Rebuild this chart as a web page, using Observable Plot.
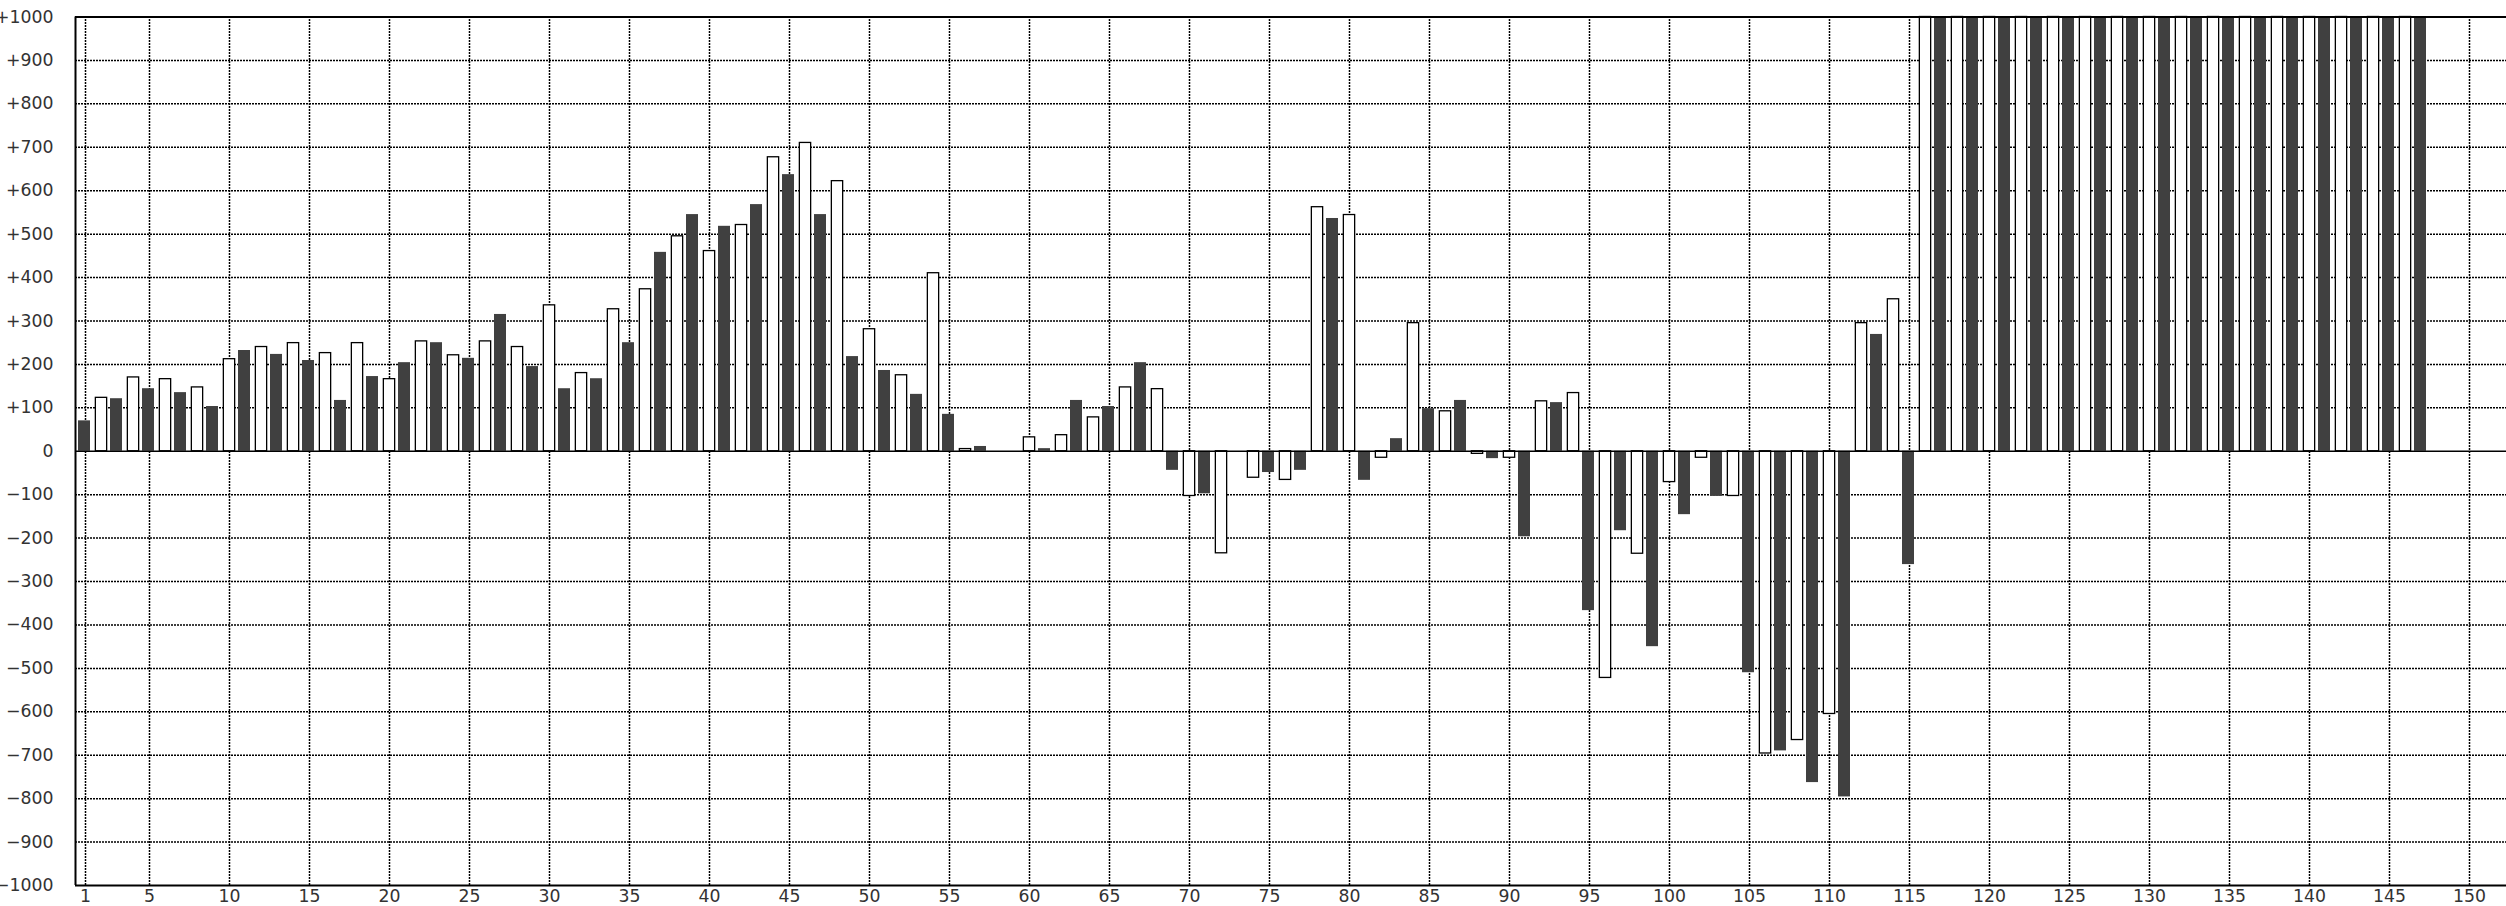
<!DOCTYPE html>
<html>
<head>
<meta charset="utf-8">
<script src="https://cdn.jsdelivr.net/npm/d3@7"></script>
<script src="https://cdn.jsdelivr.net/npm/@observablehq/plot@0.6"></script>
<style>
  html, body { margin: 0; padding: 0; background: #fff; }
  #chart svg { display: block; }
</style>
</head>
<body>
<div id="chart"></div>
<script>
// Dark (filled) series: positions 1, 3, 5, ..., 147
const darkValues = [
  70, 121, 144, 135, 103, 232, 223, 209, 117, 172,
  204, 250, 214, 315, 195, 144, 167, 250, 458, 545,
  518, 568, 637, 545, 218, 186, 131, 85, 11, 0,
  6, 117, 103, 204, -44, -98, 0, -49, -44, 536,
  -67, 29, 98, 117, -17, -197, 112, -367, -183, -450,
  -146, -104, -510, -690, -763, -796, 269, -261,
  1000, 1000, 1000, 1000, 1000, 1000, 1000, 1000,
  1000, 1000, 1000, 1000, 1000, 1000, 1000, 1000
];
// Light (outlined) series: positions 2, 4, 6, ..., 146
const lightValues = [
  123, 170, 166, 147, 212, 240, 249, 226, 249, 166,
  253, 221, 253, 240, 336, 180, 327, 373, 495, 461,
  521, 677, 710, 622, 281, 175, 410, 5, 0, 32,
  37, 78, 147, 143, -103, -235, -61, -66, 562, 544,
  -15, 295, 92, -6, -15, 115, 134, -522, -236, -71,
  -15, -103, -696, -665, -605, 295, 350,
  1000, 1000, 1000, 1000, 1000, 1000, 1000, 1000,
  1000, 1000, 1000, 1000, 1000, 1000, 1000, 1000
];
const xTicks = [1, 5, 10, 15, 20, 25, 30, 35, 40, 45, 50, 55, 60, 65, 70, 75,
  80, 85, 90, 95, 100, 105, 110, 115, 120, 125, 130, 135, 140, 145, 150];
const yTicks = [-1000, -900, -800, -700, -600, -500, -400, -300, -200, -100, 0,
  100, 200, 300, 400, 500, 600, 700, 800, 900, 1000];

const dark = darkValues.map((v, i) => ({n: 2 * i + 1, v}));
const light = lightValues.map((v, i) => ({n: 2 * i + 2, v}));

const fmt = d => d > 0 ? "+" + d : d < 0 ? "\u2212" + (-d) : "0";
const innerGrid = yTicks.filter(d => d !== 0 && Math.abs(d) !== 1000);

const chart = Plot.plot({
  width: 2506,
  height: 906,
  marginLeft: 75,
  marginRight: 0,
  marginTop: 16.5,
  marginBottom: 21,
  style: {fontFamily: "'DejaVu Sans', sans-serif", fontSize: "17.3px", color: "#333", background: "#fff"},
  x: {domain: [0.375, 152.3125]},
  y: {domain: [-1000, 1000]},
  marks: [
    Plot.ruleY(innerGrid, {stroke: "black", strokeWidth: 1.5, strokeDasharray: "2,1"}),
    Plot.ruleX(xTicks, {y1: -1000, y2: 1000, stroke: "black", strokeWidth: 1.5, strokeDasharray: "2,1"}),
    Plot.rect(dark, {
      x1: d => d.n - 0.4375, x2: d => d.n + 0.3125,
      y1: 0, y2: d => d.v,
      fill: "#404040"
    }),
    Plot.rect(light, {
      x1: d => d.n - 0.353, x2: d => d.n + 0.353,
      y1: 0, y2: d => d.v,
      fill: "white", stroke: "black", strokeWidth: 1.3
    }),
    Plot.ruleY([0], {stroke: "black", strokeWidth: 1.6}),
    Plot.ruleY([1000, -1000], {stroke: "black", strokeWidth: 2}),
    Plot.ruleX([0.375], {y1: -1000, y2: 1000, stroke: "black", strokeWidth: 2}),
    Plot.axisX({ticks: xTicks, tickSize: 0, tickPadding: 4.5, label: null, tickFormat: d => String(d), fontSize: 17.3}),
    Plot.axisY({ticks: yTicks, tickSize: 0, tickPadding: 22, label: null, tickFormat: fmt, fontSize: 17.3})
  ]
});
document.getElementById("chart").appendChild(chart);
</script>
</body>
</html>
